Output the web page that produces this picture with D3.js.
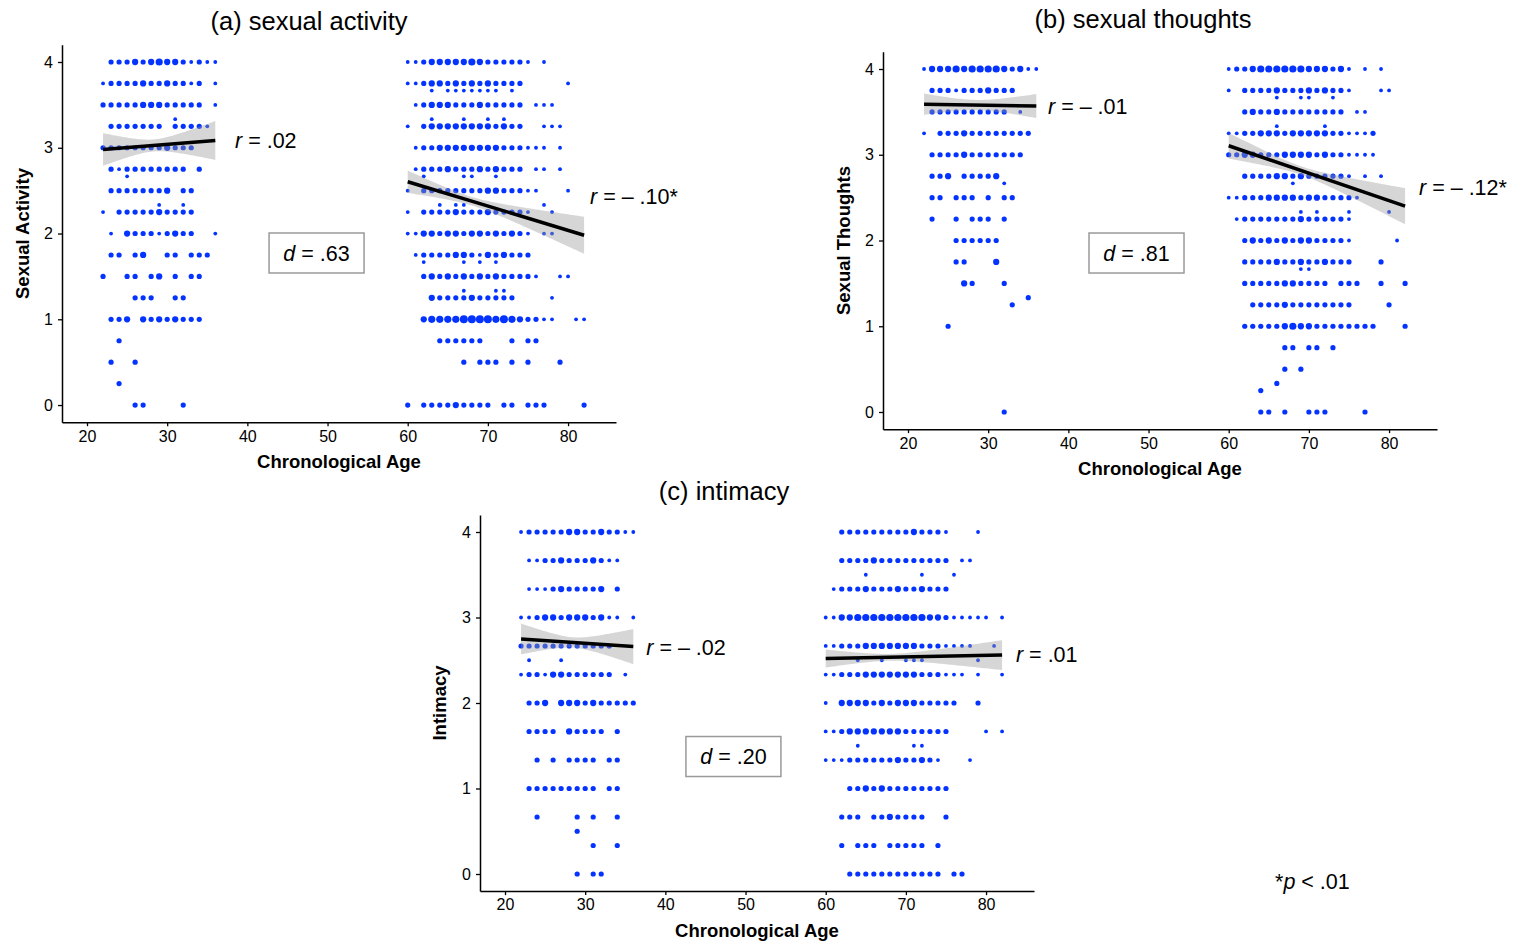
<!DOCTYPE html>
<html>
<head>
<meta charset="utf-8">
<script src="https://cdn.jsdelivr.net/npm/d3@7"></script>
<style>
  html, body { margin: 0; padding: 0; background: #fff; }
  svg { display: block; font-family: "Liberation Sans", Arial, Helvetica, sans-serif; }
</style>
</head>
<body>
<svg id="chart" width="1515" height="942"></svg>
<script>
// ---- Data -------------------------------------------------------------
// Each row: [score, counts] where counts[i] is the number of respondents
// at age (firstAge + i) with that score ("0" = none).
const xTicks = [20, 30, 40, 50, 60, 70, 80];
const yTicks = [0, 1, 2, 3, 4];
const youngFirstAge = 22;
const oldFirstAge = 60;

const activityYoung = [
  [4,     "022232343321211"],
  [3.75,  "122223223221201"],
  [3.5,   "222223332222201"],
  [3.333, "000000000100000"],
  [3.25,  "022222220222210"],
  [3,     "222222223222000"],
  [2.75,  "021222222220200"],
  [2.667, "000100000000000"],
  [2.5,   "022222223022000"],
  [2.333, "000000010010000"],
  [2.25,  "102222232222000"],
  [2,     "010322212322001"],
  [1.75,  "022023002202220"],
  [1.5,   "200220230202200"],
  [1.25,  "000022200220000"],
  [1,     "022303232322200"],
  [0.75,  "002000000000000"],
  [0.5,   "020020000000000"],
  [0.25,  "002000000000000"],
  [0,     "000022000020000"]
];
const activityOld = [
  [4,     "11233333432222210100000"],
  [3.75,  "11233232323222200000100"],
  [3.667, "00010111111101000000000"],
  [3.5,   "01233322232222201110000"],
  [3.333, "00010001001010000000000"],
  [3.25,  "10233333333232200111000"],
  [3,     "01223333333322211101000"],
  [2.75,  "01222322232322201101000"],
  [2.667, "00100001100100000000000"],
  [2.5,   "10222222223322211000100"],
  [2.333, "00001011000000000100000"],
  [2.25,  "10222232223222210010000"],
  [2,     "11332332332323210110000"],
  [1.75,  "01222233213232220000000"],
  [1.667, "00100001010100000000000"],
  [1.5,   "00232323232322221001100"],
  [1.333, "00000001000110000000000"],
  [1.25,  "00032222322222000010000"],
  [1,     "00344445555454322110011"],
  [0.75,  "00002222220002022000000"],
  [0.5,   "00000002022202020002000"],
  [0,     "20222232222022022200002"]
];

const thoughtsYoung = [
  [4,     "133343444432311"],
  [3.75,  "022212223222000"],
  [3.5,   "022222222220100"],
  [3.25,  "102223222222220"],
  [3,     "022223222222200"],
  [2.75,  "022302222300000"],
  [2.667, "000000000010000"],
  [2.5,   "022022202022000"],
  [2.25,  "020020222020000"],
  [2,     "000022222200000"],
  [1.75,  "000022000300000"],
  [1.5,   "000003200020000"],
  [1.333, "000000000000020"],
  [1.25,  "000000000002000"],
  [1,     "000200000000000"],
  [0,     "000000000020000"]
];
const thoughtsOld = [
  [4,     "12234444443332310101000"],
  [3.75,  "10222232223232210001100"],
  [3.667, "00000010011001000000000"],
  [3.5,   "00232232222222201100000"],
  [3.333, "00000010000010000000000"],
  [3.25,  "11223332333332211120000"],
  [3,     "22332223333232211110000"],
  [2.75,  "00222233232222210101000"],
  [2.667, "00000000100000000000000"],
  [2.5,   "11222333323322221000000"],
  [2.333, "00000000010100010000100"],
  [2.25,  "01222222232222210000000"],
  [2,     "00232323233222210000010"],
  [1.75,  "00222232232232220002000"],
  [1.667, "00000000011000000000000"],
  [1.5,   "00222223322220222002002"],
  [1.25,  "00022223222222220000200"],
  [1,     "00222223433222222220002"],
  [0.75,  "00000002202202000000000"],
  [0.5,   "00000002020000000000000"],
  [0.333, "00000020000000000000000"],
  [0.25,  "00002000000000000000000"],
  [0,     "00002202002220000200000"]
];

const intimacyYoung = [
  [4,     "122222332232211"],
  [3.667, "011223222321100"],
  [3.333, "011123222230200"],
  [3,     "112332333231101"],
  [2.667, "222222222222000"],
  [2.5,   "010001000000000"],
  [2.333, "122133222222010"],
  [2,     "022303332322222"],
  [1.667, "022220322220200"],
  [1.333, "002020222202200"],
  [1,     "022222222202200"],
  [0.667, "002000020200200"],
  [0.5,   "000000020000000"],
  [0.333, "000000000200200"],
  [0,     "000000020220000"]
];
const intimacyOld = [
  [4,     "00222222222322210001000"],
  [3.667, "00222232222222220110000"],
  [3.5,   "00000100000010001000000"],
  [3.333, "01222322232232220000000"],
  [3,     "11334444444443321111101"],
  [2.667, "11222333333322211110010"],
  [2.5,   "00001001001110000001000"],
  [2.333, "11222333333322211101001"],
  [2,     "10333323233322222002000"],
  [1.667, "11233333332222220000101"],
  [1.5,   "00001000000110000000000"],
  [1.333, "11122222232232100010000"],
  [1,     "00022323222222220000000"],
  [0.667, "00222022322220020000000"],
  [0.333, "00202220222220200000000"],
  [0,     "00022222222222202200000"]
];

// Linear fits per age group: fitted score at both ends, mean age,
// standard error at the mean and at the left end.
const activityFits = [
  { x0: 22, x1: 36, y0: 2.98, y1: 3.085, xm: 28.3, seMid: 0.07, seLeft: 0.19 },
  { x0: 60, x1: 82, y0: 2.604, y1: 1.98, xm: 68, seMid: 0.05, seLeft: 0.13 }
];
const thoughtsFits = [
  { x0: 22, x1: 36, y0: 3.59, y1: 3.568, xm: 28.5, seMid: 0.06, seLeft: 0.125 },
  { x0: 60, x1: 82, y0: 3.105, y1: 2.40, xm: 69, seMid: 0.05, seLeft: 0.15 }
];
const intimacyFits = [
  { x0: 22, x1: 36, y0: 2.749, y1: 2.66, xm: 28.5, seMid: 0.06, seLeft: 0.18 },
  { x0: 60, x1: 82, y0: 2.52, y1: 2.56, xm: 68, seMid: 0.04, seLeft: 0.105 }
];

// Correlations and effect sizes
const activityR = [
  { text: " = .02", age: 38.46, value: 3.09 },
  { text: " = \u2013 .10*", age: 82.74, value: 2.437 }
];
const thoughtsR = [
  { text: " = \u2013 .01", age: 37.46, value: 3.568 },
  { text: " = \u2013 .12*", age: 83.74, value: 2.624 }
];
const intimacyR = [
  { text: " = \u2013 .02", age: 37.62, value: 2.655 },
  { text: " = .01", age: 83.73, value: 2.573 }
];
const activityD = { text: " = .63", age: 48.63, value: 1.773 };
const thoughtsD = { text: " = .81", age: 48.5, value: 1.854 };
const intimacyD = { text: " = .20", age: 48.49, value: 1.374 };

// ---- Layout -----------------------------------------------------------
const panels = [
  { title: "(a) sexual activity", yLabel: "Sexual Activity",
    young: activityYoung, old: activityOld, fits: activityFits, r: activityR, d: activityD,
    left: 62, right: 616, top: 44.85, bottom: 422.2, titleX: 309, titleY: 30, yLabelX: 29 },
  { title: "(b) sexual thoughts", yLabel: "Sexual Thoughts",
    young: thoughtsYoung, old: thoughtsOld, fits: thoughtsFits, r: thoughtsR, d: thoughtsD,
    left: 883, right: 1437, top: 51.85, bottom: 429.15, titleX: 1143, titleY: 28, yLabelX: 850 },
  { title: "(c) intimacy", yLabel: "Intimacy",
    young: intimacyYoung, old: intimacyOld, fits: intimacyFits, r: intimacyR, d: intimacyD,
    left: 480, right: 1034, top: 514.9, bottom: 891.1, titleX: 724, titleY: 500, yLabelX: 446 }
];

const svg = d3.select("#chart");
const dotColor = "#0433ff";
// dot area grows linearly with the count
const radius = d3.scaleRadial().domain([1, 5]).range([1.9, 4.0]);

function expandRows(rows, firstAge) {
  const pts = [];
  rows.forEach(([value, counts]) => {
    counts.split("").forEach((ch, i) => {
      const n = +ch;
      if (n > 0) pts.push({ age: firstAge + i, value, n });
    });
  });
  return pts;
}

panels.forEach(p => {
  const x = d3.scaleLinear().domain([16.88, 85.98]).range([p.left, p.right]);
  const y = d3.scaleLinear().domain([-0.2, 4.2]).range([p.bottom, p.top]);
  const g = svg.append("g");

  // dots
  const pts = expandRows(p.young, youngFirstAge).concat(expandRows(p.old, oldFirstAge));
  g.append("g").selectAll("circle").data(pts).join("circle")
    .attr("cx", d => x(d.age))
    .attr("cy", d => y(d.value))
    .attr("r", d => radius(d.n))
    .attr("fill", dotColor);

  // confidence bands and fitted lines
  p.fits.forEach(f => {
    const c = (f.seLeft * f.seLeft - f.seMid * f.seMid) / ((f.x0 - f.xm) * (f.x0 - f.xm));
    const ages = d3.range(f.x0, f.x1 + 0.001, 0.25);
    const band = ages.map(a => {
      const fit = f.y0 + (f.y1 - f.y0) * (a - f.x0) / (f.x1 - f.x0);
      const h = Math.sqrt(f.seMid * f.seMid + c * (a - f.xm) * (a - f.xm));
      return { a, lo: fit - h, hi: fit + h };
    });
    g.append("path")
      .attr("d", d3.area().x(d => x(d.a)).y0(d => y(d.lo)).y1(d => y(d.hi))(band))
      .attr("fill", "#999999").attr("fill-opacity", 0.4);
    g.append("line")
      .attr("x1", x(f.x0)).attr("y1", y(f.y0))
      .attr("x2", x(f.x1)).attr("y2", y(f.y1))
      .attr("stroke", "#000").attr("stroke-width", 3.5);
  });

  // axes
  const xAxis = g.append("g").attr("transform", `translate(0,${p.bottom})`)
    .call(d3.axisBottom(x).tickValues(xTicks).tickFormat(d3.format("d"))
      .tickSize(4).tickPadding(4).tickSizeOuter(0));
  const yAxis = g.append("g").attr("transform", `translate(${p.left},0)`)
    .call(d3.axisLeft(y).tickValues(yTicks).tickFormat(d3.format("d"))
      .tickSize(4).tickPadding(5).tickSizeOuter(0));
  [xAxis, yAxis].forEach(ax => {
    ax.select(".domain").attr("stroke", "#000").attr("stroke-width", 1.5);
    ax.selectAll(".tick line").attr("stroke", "#000").attr("stroke-width", 1.3);
    ax.selectAll(".tick text").attr("fill", "#000")
      .style("font-size", "16px").style("font-family", "'Liberation Sans', Arial, sans-serif");
  });

  // titles
  g.append("text").attr("x", p.titleX).attr("y", p.titleY)
    .attr("text-anchor", "middle").style("font-size", "25.5px").text(p.title);
  g.append("text").attr("x", (p.left + p.right) / 2).attr("y", p.bottom + 46)
    .attr("text-anchor", "middle").style("font-size", "18.5px").style("font-weight", "bold")
    .text("Chronological Age");
  g.append("text")
    .attr("transform", `translate(${p.yLabelX},${(p.top + p.bottom) / 2}) rotate(-90)`)
    .attr("text-anchor", "middle").style("font-size", "18.5px").style("font-weight", "bold")
    .text(p.yLabel);

  // correlation labels
  p.r.forEach(r => {
    const t = g.append("text").attr("x", x(r.age)).attr("y", y(r.value)).attr("dy", "0.36em")
      .style("font-size", "21.5px");
    t.append("tspan").style("font-style", "italic").text("r");
    t.append("tspan").text(r.text);
  });

  // effect size box
  const cx = x(p.d.age), cy = y(p.d.value);
  g.append("rect").attr("x", cx - 47.5).attr("y", cy - 20).attr("width", 95).attr("height", 40)
    .attr("fill", "#fff").attr("stroke", "#9a9a9a").attr("stroke-width", 1.5);
  const dt = g.append("text").attr("x", cx).attr("y", cy).attr("dy", "0.36em")
    .attr("text-anchor", "middle").style("font-size", "21.5px");
  dt.append("tspan").style("font-style", "italic").text("d");
  dt.append("tspan").text(p.d.text);
});

// significance note
const note = svg.append("text").attr("x", 1275).attr("y", 881).attr("dy", "0.36em")
  .style("font-size", "21.5px");
note.append("tspan").text("*");
note.append("tspan").style("font-style", "italic").text("p");
note.append("tspan").text(" < .01");
</script>
</body>
</html>
